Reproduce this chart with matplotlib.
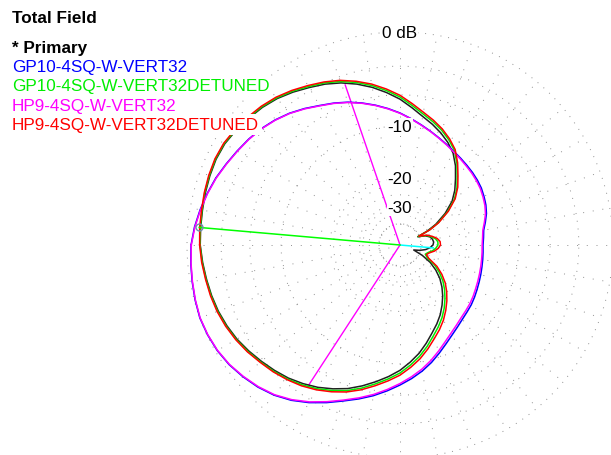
import numpy as np
import matplotlib
matplotlib.use("Agg")
import matplotlib.pyplot as plt

plt.rcParams['font.family'] = ['Liberation Sans', 'DejaVu Sans']
plt.rcParams['font.size'] = 12

# azimuth angles (deg, 0 = right, counter-clockwise)
az = [-180, -175, -170, -165, -160, -155, -150, -145, -140, -135, -130, -125, -120, -115,
      -110, -105, -100, -95, -90, -85, -80, -75, -70, -65, -60, -55, -50, -45, -40, -35,
      -30, -25, -20, -15, -10, -5, 0, 5, 10, 15, 20, 25, 27, 30, 35, 40, 45, 50, 55, 60,
      65, 70, 75, 80, 85, 90, 95, 100, 105, 110, 115, 120, 125, 130, 135, 140, 145, 150,
      155, 160, 165, 170, 175, 180]

# field strength in dB for each model
primary_db = [-1.10, -1.24, -1.38, -1.51, -1.66, -1.87, -2.12, -2.45, -2.80, -3.14, -3.50, -3.95, -4.45, -5.05,
              -5.70, -6.50, -7.35, -8.20, -9.10, -10.20, -11.35, -12.70, -14.10, -15.35, -16.70, -18.30, -20.00, -21.95, -24.20, -27.20,
              -31.0, -37.0, -46.0, -40.0, -36.0, -33.5, -32.0, -31.6, -32.0, -33.0, -35.5, -41.0, -33.5, -28.2, -23.2, -19.60, -17.35, -15.50, -13.55, -11.95,
              -10.85, -9.95, -9.15, -8.40, -7.48, -6.50, -5.68, -4.90, -4.22, -3.62, -3.13, -2.72, -2.27, -1.86, -1.55, -1.31, -1.07, -0.88,
              -0.83, -0.88, -0.95, -1.03, -1.07, -1.10]
gp10_db = [-0.33, -0.24, -0.16, -0.07, 0.00, -0.05, -0.16, -0.36, -0.66, -1.00, -1.43, -2.00, -2.70, -3.48,
           -4.28, -4.98, -5.68, -6.44, -7.20, -7.95, -8.74, -9.62, -10.58, -11.50, -12.30, -12.95, -13.50, -13.90, -14.22, -14.60,
           -14.98, -15.3, -15.57, -15.8, -15.97, -16.1, -16.17, -16.0, -15.77, -15.1, -14.41, -13.9, -13.75, -13.50, -13.1, -12.81, -12.55, -12.30, -12.00, -11.66,
           -11.22, -10.73, -10.17, -9.56, -8.90, -8.21, -7.58, -6.96, -6.36, -5.79, -5.28, -4.80, -4.22, -3.67, -3.20, -2.79, -2.45, -2.14,
           -1.80, -1.43, -1.12, -0.83, -0.55, -0.33]
gp10_det_db = [-1.08, -1.20, -1.34, -1.46, -1.60, -1.80, -2.05, -2.36, -2.70, -3.02, -3.37, -3.80, -4.28, -4.85,
               -5.46, -6.23, -7.08, -7.90, -8.74, -9.78, -10.88, -12.15, -13.50, -14.70, -15.97, -17.45, -19.10, -20.90, -22.93, -25.50,
               -28.70, -33.6, -35.5, -34.2, -32.0, -30.5, -29.6, -29.6, -30.5, -32.5, -34.8, -40.6, -32.0, -27.1, -22.3, -18.86, -16.70, -14.98, -13.10, -11.50,
               -10.45, -9.56, -8.80, -8.08, -7.20, -6.25, -5.45, -4.70, -4.05, -3.47, -3.00, -2.61, -2.17, -1.78, -1.48, -1.25, -1.02, -0.83,
               -0.78, -0.83, -0.90, -0.99, -1.03, -1.08]
hp9_db = [-0.35, -0.26, -0.18, -0.09, -0.02, -0.07, -0.18, -0.39, -0.70, -1.05, -1.48, -2.07, -2.78, -3.58,
          -4.38, -5.10, -5.82, -6.60, -7.38, -8.18, -9.00, -9.92, -10.90, -11.85, -12.65, -13.30, -13.85, -14.23, -14.55, -14.92,
          -15.30, -15.6, -15.85, -16.05, -16.2, -16.3, -16.35, -16.2, -15.95, -15.3, -14.6, -14.1, -13.95, -13.7, -13.3, -13.0, -12.72, -12.45, -12.12, -11.75,
          -11.28, -10.78, -10.21, -9.60, -8.93, -8.25, -7.62, -7.00, -6.40, -5.83, -5.32, -4.84, -4.26, -3.70, -3.23, -2.82, -2.48, -2.17,
          -1.83, -1.46, -1.15, -0.86, -0.58, -0.35]
hp9_det_db = [-1.05, -1.16, -1.30, -1.41, -1.55, -1.75, -2.00, -2.30, -2.65, -2.95, -3.30, -3.68, -4.15, -4.70,
              -5.30, -6.03, -6.85, -7.65, -8.45, -9.45, -10.50, -11.72, -13.00, -14.15, -15.40, -16.85, -18.40, -20.10, -22.00, -24.50,
              -27.60, -32.6, -34.8, -33.4, -31.0, -29.4, -28.5, -28.6, -29.7, -31.8, -34.4, -40.0, -31.6, -26.8, -22.0, -18.60, -16.45, -14.75, -12.90, -11.30,
              -10.25, -9.35, -8.58, -7.85, -6.98, -6.05, -5.28, -4.55, -3.92, -3.35, -2.90, -2.50, -2.08, -1.70, -1.41, -1.18, -0.96, -0.78,
              -0.73, -0.78, -0.86, -0.95, -0.99, -1.05]

series_names = ["GP10-4SQ-W-VERT32", "GP10-4SQ-W-VERT32DETUNED", "HP9-4SQ-W-VERT32", "HP9-4SQ-W-VERT32DETUNED"]
series_colors = ["#0000ff", "#00ee00", "#ff00ff", "#ff0000"]

ring_db = [0, -3, -6, -10, -20, -30, -40, -50]
ring_labels = {0: "0 dB", -10: "-10", -20: "-20", -30: "-30"}

# primary: max gain direction, -3 dB beamwidth points, back direction
max_az, max_db = 175, -0.95
bw_az, bw_db = [108.9, -123.1], -3.95
back_az, back_db = -5, -31.8


def arrl(db):
    # ARRL log scale: 0.89 radius per 2 dB
    return 0.89 ** (-np.asarray(db, dtype=float) / 2)


fig = plt.figure(figsize=(6.11, 4.56), dpi=100)
ax = fig.add_axes([187 / 611, -3 / 456, 426 / 611, 426 / 456], projection='polar')
ax.set_ylim(0, 1)
ax.axis('off')

# grid
th = np.linspace(0, 2 * np.pi, 721)
for d in ring_db:
    ax.plot(th, np.full_like(th, arrl(d)), color='#909090', lw=0.7,
            ls=(0, (1, 7)), clip_on=False, zorder=1)
for a in range(0, 360, 10):
    ax.plot([np.radians(a)] * 2, [arrl(-40), 1], color='#909090', lw=0.7,
            ls=(0, (1, 9)), clip_on=False, zorder=1)

# -3 dB and cursor lines
for a in bw_az:
    ax.plot([0, np.radians(a)], [0, arrl(bw_db)], color='#ff00ff', lw=1.0, zorder=2)
ax.plot([0, np.radians(back_az)], [0, arrl(back_db)], color='#00ffff', lw=1.1, zorder=6)

theta = np.radians(az)
ax.plot(theta, arrl(primary_db), color='#202020', lw=1.1, clip_on=False, zorder=3)
all_db = [gp10_db, gp10_det_db, hp9_db, hp9_det_db]
for vals, c in zip(all_db, series_colors):
    ax.plot(theta, arrl(vals), color=c, lw=1.1, clip_on=False, zorder=4)

ax.plot([0, np.radians(max_az)], [0, arrl(max_db)], color='#00ff00', lw=1.1, zorder=6)
ax.plot([np.radians(max_az)], [arrl(max_db)], marker='o', ms=5, mfc='none',
        mec='#7090b0', mew=1.0, zorder=7, clip_on=False)

for d, lab in ring_labels.items():
    ax.text(np.pi / 2, arrl(d), lab, ha='center', va='center', fontsize=12.3, zorder=8,
            bbox=dict(facecolor='white', edgecolor='none', pad=0.5))

# header and legend text
def fy(px):
    return 1 - px / 456

fig.text(12 / 611, fy(23), "Total Field", fontsize=12.3, fontweight='bold', va='baseline')
fig.text(12 / 611, fy(53), "* Primary", fontsize=12.3, fontweight='bold', va='baseline')
for i, (name, c) in enumerate(zip(series_names, series_colors)):
    fig.text(12 / 611, fy(72 + i * 19.4), name, color=c, fontsize=12.3, va='baseline',
             bbox=dict(facecolor='white', edgecolor='none', pad=2))

fig.savefig("out.png", dpi=100)
